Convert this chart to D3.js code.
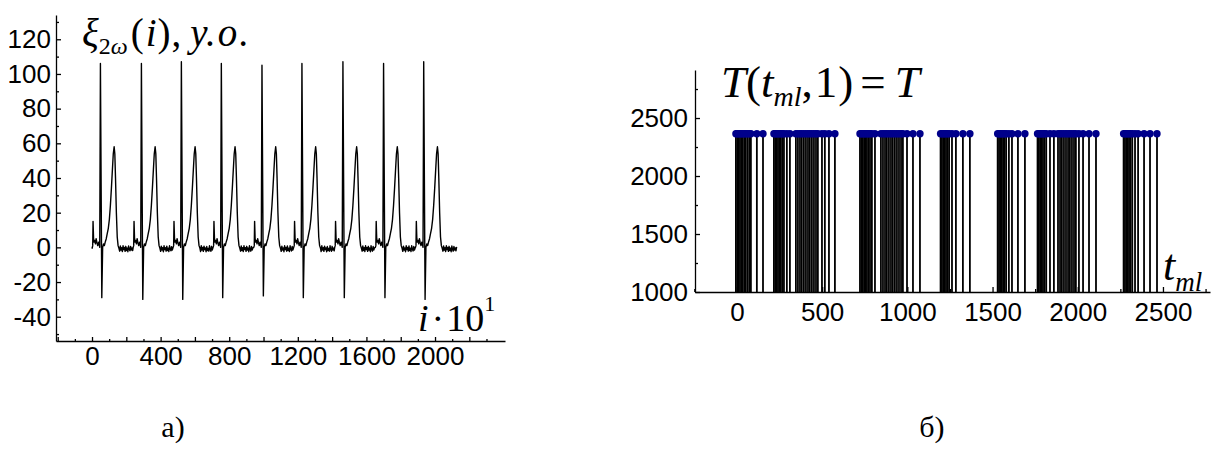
<!DOCTYPE html>
<html>
<head>
<meta charset="utf-8">
<script src="https://cdn.jsdelivr.net/npm/d3@7"></script>
<style>
  body { margin: 0; background: #fff; }
  svg { display: block; }
  .tick text { font-family: "Liberation Sans", Arial, sans-serif; font-size: 26px; fill: #000; }
  .axis path, .axis line { stroke: #000; stroke-width: 1.3; }
</style>
</head>
<body>
<svg id="chart" width="1216" height="456"></svg>
<script>
// ---- panel а): signal ξ2ω(i), sample index i (×10) vs amplitude ----
const ecgSignal = [
  [0,0],[1,-0.5],[4,1],[6,15],[9,5],[12,3],[16,4],[20,2],[24,5],[28,3],[33,1],[38,3],[43,1],[45,0],[49,106],[57,-29],
  [62,0],[67,2],[72,1],[77,3],[83,5],[89,8],[95,11],[101,16],[107,24],[113,34],[119,45],[124,54],[129,58],[133,54],[137,40],[142,20],[147,6],[152,1],
  [157,-0.5],[161,-2.2],[165,0.8],[169,-1.6],[173,-0.2],[177,-2.4],[181,0.9],[185,-1.3],[189,-0.1],[193,-2.3],[197,0.6],[201,-1.8],[205,-0.4],[209,-2.5],[213,0.8],[217,-1.1],[221,-2],[225,0.5],[229,-1.5],[233,-0.3],[237,-1.9],

  [240,0],[243,1],[245,15],[248,5],[251,3],[255,4],[259,2],[263,5],[267,3],[272,1],[277,3],[282,1],[284,0],[288,106],[296,-30],
  [301,0],[306,2],[311,1],[316,3],[322,5],[328,8],[334,11],[340,16],[346,24],[352,34],[358,45],[363,54],[368,58],[372,54],[376,40],[381,20],[386,6],[391,1],
  [396,-0.6],[400,-2.3],[404,0.7],[408,-1.5],[412,-0.2],[416,-2.5],[420,0.9],[424,-1.2],[428,-0.2],[432,-2.2],[436,0.7],[440,-1.8],[444,-0.5],[448,-2.4],[452,0.9],[456,-1],[460,-2],[464,0.4],[468,-1.6],

  [473,0],[476,1],[478,15],[481,5],[484,3],[488,4],[492,2],[496,5],[500,3],[505,1],[510,3],[515,1],[517,0],[521,107],[529,-30],
  [534,0],[539,2],[544,1],[549,3],[555,5],[561,8],[567,11],[573,16],[579,24],[585,34],[591,45],[596,54],[601,58],[605,54],[609,40],[614,20],[619,6],[624,1],
  [629,-0.4],[633,-2.4],[637,0.9],[641,-1.6],[645,-0.1],[649,-2.3],[653,0.7],[657,-1.3],[661,-0.3],[665,-2.5],[669,0.5],[673,-1.9],[677,-0.6],[681,-2.2],[685,0.9],[689,-1.2],[693,-2.3],[697,0.6],[701,-1.5],

  [706,0],[709,1],[711,15],[714,5],[717,3],[721,4],[725,2],[729,5],[733,3],[738,1],[743,3],[748,1],[750,0],[754,106],[762,-29],
  [767,0],[772,2],[777,1],[782,3],[788,5],[794,8],[800,11],[806,16],[812,24],[818,34],[824,45],[829,54],[834,58],[838,54],[842,40],[847,20],[852,6],[857,1],
  [862,-0.5],[866,-2.2],[870,0.8],[874,-1.8],[878,-0.2],[882,-2.4],[886,0.9],[890,-1.2],[894,-0.2],[898,-2.3],[902,0.6],[906,-1.6],[910,-0.4],[914,-2.5],[918,0.9],[922,-1.1],[926,-2.2],[930,0.5],[934,-1.5],[938,-0.3],

  [943,0],[946,1],[948,15],[951,5],[954,3],[958,4],[962,2],[966,5],[970,3],[975,1],[980,3],[985,1],[987,0],[991,105],[999,-28],
  [1004,0],[1009,2],[1014,1],[1019,3],[1025,5],[1031,8],[1037,11],[1043,16],[1049,24],[1055,34],[1061,45],[1066,54],[1071,58],[1075,54],[1079,40],[1084,20],[1089,6],[1094,1],
  [1099,-0.6],[1103,-2.3],[1107,0.7],[1111,-1.5],[1115,-0.3],[1119,-2.5],[1123,0.9],[1127,-1.3],[1131,-0.1],[1135,-2.2],[1139,0.8],[1143,-1.8],[1147,-0.5],[1151,-2.4],[1155,0.9],[1159,-1],[1163,-2.1],[1167,0.5],[1171,-1.6],

  [1176,0],[1179,1],[1181,15],[1184,5],[1187,3],[1191,4],[1195,2],[1199,5],[1203,3],[1208,1],[1213,3],[1218,1],[1220,0],[1224,106],[1232,-29],
  [1237,0],[1242,2],[1247,1],[1252,3],[1258,5],[1264,8],[1270,11],[1276,16],[1282,24],[1288,34],[1294,45],[1299,54],[1304,58],[1308,54],[1312,40],[1317,20],[1322,6],[1327,1],
  [1332,-0.4],[1336,-2.4],[1340,0.9],[1344,-1.6],[1348,-0.2],[1352,-2.3],[1356,0.7],[1360,-1.3],[1364,-0.3],[1368,-2.5],[1372,0.5],[1376,-1.9],[1380,-0.6],[1384,-2.2],[1388,0.9],[1392,-1.2],[1396,-2.3],[1400,0.6],[1404,-1.5],[1408,-0.4],[1412,-2],

  [1415,0],[1418,1],[1420,15],[1423,5],[1426,3],[1430,4],[1434,2],[1438,5],[1442,3],[1447,1],[1452,3],[1457,1],[1459,0],[1463,107],[1471,-29],
  [1476,0],[1481,2],[1486,1],[1491,3],[1497,5],[1503,8],[1509,11],[1515,16],[1521,24],[1527,34],[1533,45],[1538,54],[1543,58],[1547,54],[1551,40],[1556,20],[1561,6],[1566,1],
  [1571,-0.5],[1575,-2.2],[1579,0.8],[1583,-1.8],[1587,-0.2],[1591,-2.4],[1595,0.9],[1599,-1.2],[1603,-0.2],[1607,-2.3],[1611,0.6],[1615,-1.6],[1619,-0.4],[1623,-2.5],[1627,0.9],[1631,-1.1],[1635,-2.2],[1639,0.5],[1643,-1.5],[1647,-0.3],

  [1652,0],[1655,1],[1657,15],[1660,5],[1663,3],[1667,4],[1671,2],[1675,5],[1679,3],[1684,1],[1689,3],[1694,1],[1696,0],[1700,106],[1708,-29],
  [1713,0],[1718,2],[1723,1],[1728,3],[1734,5],[1740,8],[1746,11],[1752,16],[1758,24],[1764,34],[1770,45],[1775,54],[1780,58],[1784,54],[1788,40],[1793,20],[1798,6],[1803,1],
  [1808,-0.6],[1812,-2.3],[1816,0.7],[1820,-1.5],[1824,-0.3],[1828,-2.5],[1832,0.9],[1836,-1.3],[1840,-0.1],[1844,-2.2],[1848,0.8],[1852,-1.8],[1856,-0.5],[1860,-2.4],[1864,0.9],[1868,-1],[1872,-2.1],[1876,0.5],[1880,-1.6],[1884,-0.4],

  [1886,0],[1889,1],[1891,15],[1894,5],[1897,3],[1901,4],[1905,2],[1909,5],[1913,3],[1918,1],[1923,3],[1928,1],[1930,0],[1934,107],[1942,-30],
  [1947,0],[1952,2],[1957,1],[1962,3],[1968,5],[1974,8],[1980,11],[1986,16],[1992,24],[1998,34],[2004,45],[2009,54],[2014,58],[2018,54],[2022,40],[2027,20],[2032,6],[2037,1],
  [2042,-0.5],[2046,-2.2],[2050,0.8],[2054,-1.6],[2058,-0.2],[2062,-2.4],[2066,0.9],[2070,-1.3],[2074,-0.1],[2078,-2.3],[2082,0.6],[2086,-1.8],[2090,-0.4],[2094,-2.5],[2098,0.8],[2102,-1.1],[2106,-2.2],[2110,0.5],[2114,-1.5],[2118,-0.3],[2122,-2],[2126,0.3]
];
const ecgYTicks = [-40, -20, 0, 20, 40, 60, 80, 100, 120];
const ecgYMinor = [-50, -30, -10, 10, 30, 50, 70, 90, 110, 130];
const ecgXTicks = [0, 400, 800, 1200, 1600, 2000];
const ecgXMid = [-200, 200, 600, 1000, 1400, 1800, 2200];
const ecgXMinor = [-100, 100, 300, 500, 700, 900, 1100, 1300, 1500, 1700, 1900, 2100, 2300];

// ---- panel б): moments t_ml where T(t_ml,1) = T ----
const stemTimes = [
  -6, 2, 10, 18, 26, 34, 43, 52, 62, 72, 82, 117, 153,
  217, 225, 233, 241, 249, 258, 267, 276, 293, 311, 346, 358, 370, 381, 393, 405, 417, 428, 440, 452, 464, 475, 499, 516, 540, 575,
  722, 730, 739, 747, 755, 763, 772, 781, 792, 810, 845, 857, 869, 880, 892, 904, 915, 927, 939, 951, 963, 974, 998, 1033, 1074,
  1195, 1203, 1211, 1219, 1227, 1236, 1245, 1262, 1285, 1326, 1367,
  1530, 1538, 1546, 1554, 1562, 1571, 1580, 1596, 1614, 1649, 1690,
  1764, 1772, 1780, 1788, 1796, 1805, 1815, 1837, 1860, 1884, 1896, 1907, 1919, 1931, 1943, 1954, 1966, 1978, 1989, 2007, 2031, 2066, 2107,
  2269, 2277, 2285, 2293, 2301, 2310, 2320, 2336, 2354, 2389, 2424, 2465
];
const stemLevel = 2365;
const stemBase = 1000;
const stemYTicks = [1000, 1500, 2000, 2500];
const stemYMinor = [1250, 1750, 2250, 2750];
const stemXTicks = [0, 500, 1000, 1500, 2000, 2500];
const stemXMinor = [-250, 250, 750, 1250, 1750, 2250, 2750];

const svg = d3.select("#chart");
const SERIF = '"Liberation Serif", "Times New Roman", serif';

// a multi-part label: parts are [text, {italic, size, dy, dx}]
function richText(x, y, size, parts, anchor) {
  const t = svg.append("text")
    .attr("x", x).attr("y", y)
    .attr("text-anchor", anchor || "start")
    .style("font-family", SERIF)
    .style("font-size", size + "px")
    .style("fill", "#000");
  parts.forEach(([s, o]) => {
    o = o || {};
    const sp = t.append("tspan").text(s)
      .style("font-style", o.italic ? "italic" : "normal");
    if (o.size) sp.style("font-size", o.size + "px");
    if (o.dy) sp.attr("dy", o.dy);
    if (o.dx) sp.attr("dx", o.dx);
  });
  return t;
}

function plainAxis(g) {
  g.attr("class", "axis");
  g.selectAll("path").attr("fill", "none");
}

// ---------- left panel ----------
const xL = d3.scaleLinear().domain([-210, 2408]).range([56, 505]);
const yL = d3.scaleLinear().domain([-54, 134]).range([341, 15]);

svg.append("g").attr("transform", "translate(56,0)")
  .call(d3.axisLeft(yL).tickValues(ecgYTicks).tickSizeInner(-5).tickSizeOuter(0)
        .tickPadding(5).tickFormat(d => String(d)))
  .call(plainAxis);
svg.append("g").attr("transform", "translate(56,0)")
  .call(d3.axisLeft(yL).tickValues(ecgYMinor).tickSizeInner(-3).tickSizeOuter(0).tickFormat(""))
  .call(plainAxis).call(g => g.select("path").remove());

svg.append("g").attr("transform", "translate(0,341)")
  .call(d3.axisBottom(xL).tickValues(ecgXTicks).tickSizeInner(-4).tickSizeOuter(0)
        .tickPadding(6).tickFormat(d => String(d)))
  .call(plainAxis);
svg.append("g").attr("transform", "translate(0,341)")
  .call(d3.axisBottom(xL).tickValues(ecgXMid).tickSizeInner(-4).tickSizeOuter(0).tickFormat(""))
  .call(plainAxis).call(g => g.select("path").remove());
svg.append("g").attr("transform", "translate(0,341)")
  .call(d3.axisBottom(xL).tickValues(ecgXMinor).tickSizeInner(-2).tickSizeOuter(0).tickFormat(""))
  .call(plainAxis).call(g => g.select("path").remove());

svg.append("path")
  .datum(ecgSignal)
  .attr("fill", "none")
  .attr("stroke", "#000")
  .attr("stroke-width", 1.4)
  .attr("stroke-linejoin", "round")
  .attr("d", d3.line().x(d => xL(d[0])).y(d => yL(d[1])));

// title ξ2ω(i), у.о.
richText(82, 46, 39, [
  ["ξ", {italic: true}],
  ["2", {size: 24, dy: 8}],
  ["ω", {size: 24, italic: true}],
  ["(", {dy: -8, dx: 3}],
  ["i", {italic: true, dx: 2}],
  [")", {dx: 1}],
  [",", {dx: 1}],
  ["у", {italic: true, dx: 9}],
  [".", {italic: true, dx: 1}],
  ["о", {italic: true, dx: 2}],
  [".", {italic: true, dx: 2}]
]);

// axis label i·10¹
richText(418, 331, 38, [
  ["i", {italic: true}],
  ["·", {dx: 3}],
  ["10", {dx: 2}],
  ["1", {size: 22, dy: -20}]
]);

// ---------- right panel ----------
const xR = d3.scaleLinear().domain([-246, 2776]).range([695, 1210]);
const yR = d3.scaleLinear().domain([1000, 2914]).range([292, 70]);

svg.append("g").attr("transform", "translate(695,0)")
  .call(d3.axisLeft(yR).tickValues(stemYTicks).tickSizeInner(-5).tickSizeOuter(0)
        .tickPadding(7).tickFormat(d => String(d)))
  .call(plainAxis);
svg.append("g").attr("transform", "translate(695,0)")
  .call(d3.axisLeft(yR).tickValues(stemYMinor).tickSizeInner(-3).tickSizeOuter(0).tickFormat(""))
  .call(plainAxis).call(g => g.select("path").remove());

svg.append("g").attr("transform", "translate(0,292)")
  .call(d3.axisBottom(xR).tickValues(stemXTicks).tickSizeInner(-5).tickSizeOuter(0)
        .tickPadding(11).tickFormat(d => String(d)))
  .call(plainAxis);
svg.append("g").attr("transform", "translate(0,292)")
  .call(d3.axisBottom(xR).tickValues(stemXMinor).tickSizeInner(-3).tickSizeOuter(0).tickFormat(""))
  .call(plainAxis).call(g => g.select("path").remove());

const stems = svg.append("g");
stems.selectAll("line").data(stemTimes).join("line")
  .attr("x1", d => xR(d)).attr("x2", d => xR(d))
  .attr("y1", yR(stemBase)).attr("y2", yR(stemLevel))
  .attr("stroke", "#000").attr("stroke-width", 1.8);
stems.selectAll("circle").data(stemTimes).join("circle")
  .attr("cx", d => xR(d)).attr("cy", yR(stemLevel)).attr("r", 3.7)
  .attr("fill", "#00008b");

// title T(t_ml,1) = T
richText(721, 97, 45, [
  ["T", {italic: true}],
  ["("],
  ["t", {italic: true}],
  ["ml", {italic: true, size: 28, dy: 9}],
  [",", {dy: -9}],
  ["1", {dx: 2}],
  [")", {dx: 1}],
  ["=", {dx: 7}],
  ["T", {italic: true, dx: 9}]
]);

// axis label t_ml
richText(1163, 280, 44, [
  ["t", {italic: true}],
  ["ml", {italic: true, size: 27, dy: 11}]
]);

// panel captions
richText(173, 437, 30, [["а)"]], "middle");
richText(932, 437, 30, [["б)"]], "middle");
</script>
</body>
</html>
